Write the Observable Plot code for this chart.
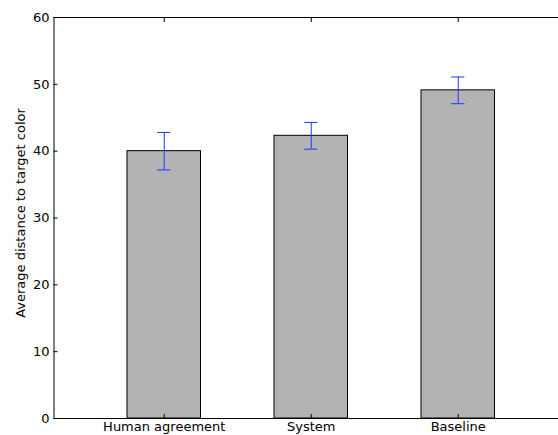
<!DOCTYPE html>
<html>
<head>
<meta charset="utf-8">
<script src="https://cdn.jsdelivr.net/npm/d3@7"></script>
<script src="https://cdn.jsdelivr.net/npm/@observablehq/plot@0.6"></script>
<style>
  html, body { margin: 0; padding: 0; background: #fff; }
  #chart { width: 558px; height: 435px; overflow: hidden; }
</style>
</head>
<body>
<div id="chart"></div>
<script>
const categories = ["Human agreement", "System", "Baseline"];
const means = [40.0, 42.3, 49.1];
const errors = [2.8, 2.0, 2.0];
const yTicks = [0, 10, 20, 30, 40, 50, 60];
const yLabel = "Average distance to target color";

const data = categories.map((c, i) => ({i, c, m: means[i], e: errors[i]}));
const barHalf = 0.25;
const capHalf = 0.045;
const xMin = -0.75, xMax = 2.682;

const chart = Plot.plot({
  width: 558,
  height: 435,
  marginLeft: 53.5,
  marginRight: 0,
  marginTop: 17,
  marginBottom: 17,
  style: {fontFamily: "DejaVu Sans", fontSize: "13px", color: "#000", background: "#fff"},
  x: {type: "linear", domain: [xMin, xMax]},
  y: {domain: [0, 60]},
  marks: [
    Plot.rectY(data, {x1: d => d.i - barHalf, x2: d => d.i + barHalf, y1: 0, y2: "m", fill: "#b3b3b3", stroke: "#000", strokeWidth: 1}),
    Plot.ruleX(data, {x: "i", y1: d => d.m - d.e, y2: d => d.m + d.e, stroke: "#2233ff", strokeWidth: 1}),
    Plot.ruleY(data, {y: d => d.m + d.e, x1: d => d.i - capHalf, x2: d => d.i + capHalf, stroke: "#2233ff", strokeWidth: 1}),
    Plot.ruleY(data, {y: d => d.m - d.e, x1: d => d.i - capHalf, x2: d => d.i + capHalf, stroke: "#2233ff", strokeWidth: 1}),
    Plot.axisY({ticks: yTicks, tickSize: -4, tickPadding: 8.5, tickFormat: d => String(d), label: null, fontSize: "13px"}),
    Plot.text([yLabel], {frameAnchor: "left", text: d => d, rotate: -90, textAnchor: "middle", lineAnchor: "middle", dx: -33.5, dy: -5, fontSize: "13px", fill: "#000"}),
    Plot.axisX({anchor: "bottom", ticks: [0, 1, 2], tickSize: -4, tickPadding: 7, tickFormat: i => categories[i], label: null, fontSize: "13px"}),
    Plot.axisX({anchor: "top", ticks: [0, 1, 2], tickSize: -4, tickFormat: () => "", label: null}),
    Plot.ruleX([xMin], {stroke: "#000", strokeWidth: 1}),
    Plot.ruleY([0, 60], {stroke: "#000", strokeWidth: 1})
  ]
});
document.getElementById("chart").appendChild(chart);
</script>
</body>
</html>
